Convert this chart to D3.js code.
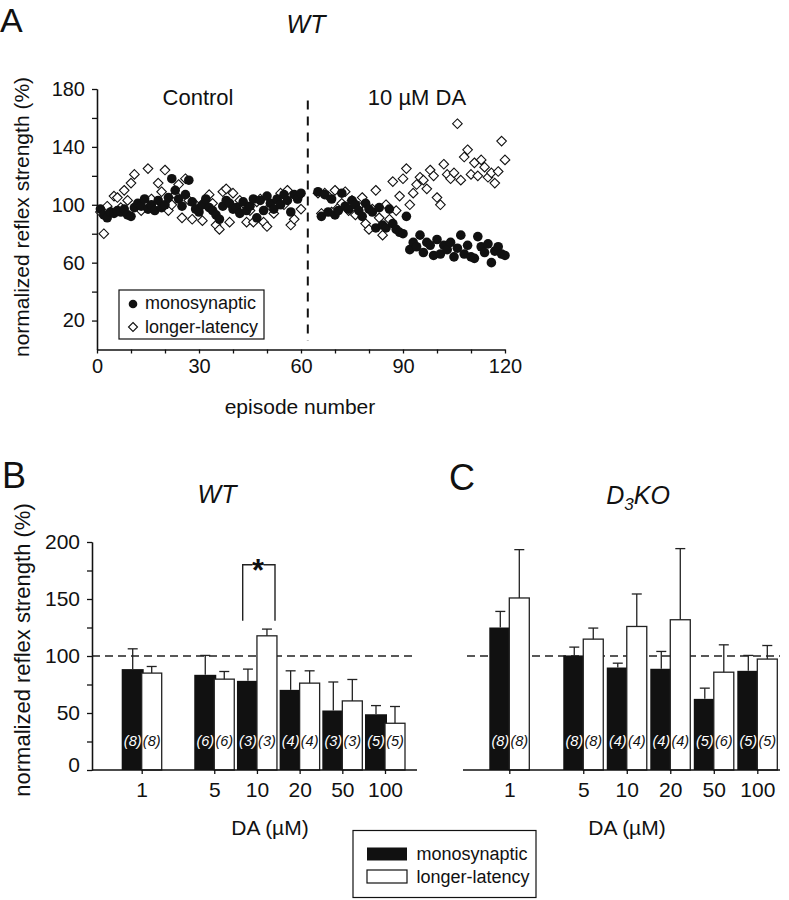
<!DOCTYPE html>
<html><head><meta charset="utf-8">
<script src="https://cdn.jsdelivr.net/npm/d3@7"></script>
<style>body{margin:0;background:#fff} svg{display:block}</style>
</head><body><svg id="c" width="789" height="900"></svg>
<script>
// ---------- DATA ----------
const episodes = d3.range(1, 121);
const monoA = [97,93,91,95,94,96,95,97,93,92,
  98,101,99,104,97,100,96,103,98,100,
  105,118,110,104,99,107,117,102,97,95,
  100,104,98,96,93,90,99,103,101,97,
  98,94,102,96,99,104,91,103,96,106,
  101,97,104,100,107,103,95,107,104,108,
  null,null,null,null,
  109,92,107,95,104,93,
  96,108,99,97,103,100,96,92,101,97,
  95,84,98,86,84,97,87,83,81,80,
  92,69,74,71,79,67,74,72,65,76,
  66,72,69,74,64,70,79,66,72,64,
  63,78,71,67,73,60,68,71,66,65];
const longA = [95,80,99,95,106,105,98,110,103,115,
  121,100,96,102,125,104,99,115,109,124,
  96,100,107,114,91,118,103,90,100,98,
  89,103,107,101,86,83,109,111,88,108,
  97,103,101,88,96,88,102,104,88,85,
  99,94,103,108,100,110,86,90,105,97,
  null,null,null,null,
  108,94,108,106,95,110,
  98,101,109,96,103,93,99,105,87,83,
  97,110,91,79,100,90,116,96,106,118,
  125,100,108,114,119,117,111,124,120,105,
  100,128,121,118,122,156,117,133,138,121,
  129,120,131,126,119,122,115,123,144,131];
const drugOnset = 62;
const yTicksA = [20, 60, 100, 140, 180];
const yMinorA = [40, 80, 120, 160];
const xTicksA = [0, 30, 60, 90, 120];

const doses = ["1", "5", "10", "20", "50", "100"];
const wtMono    = [88.5, 83.5, 78.2, 70.3, 52.2, 48.9];
const wtMonoErr = [17.8, 17.0, 10.3, 16.7, 25.0, 7.6];
const wtLong    = [85.0, 79.7, 117.7, 76.2, 60.6, 41.0];
const wtLongErr = [5.8, 6.7, 5.9, 10.8, 18.8, 14.7];
const wtMonoN = [8, 6, 3, 4, 3, 5];
const wtLongN = [8, 6, 3, 4, 3, 5];
const koMono    = [125.0, 100.5, 89.9, 88.8, 62.4, 87.0];
const koMonoErr = [14.1, 7.3, 3.8, 15.2, 9.4, 13.5];
const koLong    = [150.9, 114.8, 125.9, 131.8, 85.8, 97.3];
const koLongErr = [42.4, 9.7, 28.5, 62.4, 24.0, 11.9];
const koMonoN = [8, 8, 4, 4, 5, 5];
const koLongN = [8, 8, 4, 4, 6, 5];
const yTicksB = [0, 50, 100, 150, 200];
const yMinorB = [25, 75, 125, 175];

// ---------- DRAW ----------
const FONT = '"Liberation Sans", Arial, Helvetica, sans-serif';
const INK = "#111";
const svg = d3.select("#c").attr("font-family", FONT);

function styleAxis(g, fs) {
  g.attr("font-family", FONT).attr("font-size", fs);
  g.selectAll("path,line").attr("stroke", INK).attr("stroke-width", 1.3);
  g.selectAll("text").attr("fill", INK);
}
function txt(x, y, s, fs, opts = {}) {
  const t = svg.append("text").attr("x", x).attr("y", y).attr("font-size", fs)
    .attr("fill", INK).attr("text-anchor", opts.anchor || "start").text(s);
  if (opts.italic) t.attr("font-style", "italic");
  if (opts.bold) t.attr("font-weight", "bold");
  return t;
}

// Panel A
const xA = d3.scaleLinear().domain([0, 120]).range([97, 505]);
const yA = d3.scaleLinear().domain([0, 180]).range([349.5, 89]);

txt(0, 32, "A", 34);
txt(306, 33, "WT", 25, {anchor: "middle", italic: true});

const gyA1 = svg.append("g").attr("transform", `translate(${xA(0)},0)`)
  .call(d3.axisLeft(yA).tickValues(yMinorA).tickSize(5).tickFormat("").tickSizeOuter(0));
styleAxis(gyA1, 20);
const gyA = svg.append("g").attr("transform", `translate(${xA(0)},0)`)
  .call(d3.axisLeft(yA).tickValues(yTicksA).tickSize(5).tickPadding(7).tickSizeOuter(0));
styleAxis(gyA, 20);
const gxA = svg.append("g").attr("transform", `translate(0,${yA(0)})`)
  .call(d3.axisBottom(xA).tickValues(d3.range(0, 121, 10)).tickSize(4).tickPadding(5)
    .tickFormat(d => xTicksA.includes(d) ? d : "").tickSizeOuter(0));
styleAxis(gxA, 20);

svg.append("text").attr("transform", `translate(29,217) rotate(-90)`)
  .attr("text-anchor", "middle").attr("font-size", 21).attr("fill", INK)
  .text("normalized reflex strength (%)");
txt(300, 414, "episode number", 21, {anchor: "middle"});
txt(198, 105, "Control", 22, {anchor: "middle"});
txt(417, 105, "10 µM DA", 22, {anchor: "middle"});

svg.append("line").attr("x1", xA(drugOnset)).attr("x2", xA(drugOnset))
  .attr("y1", yA(172)).attr("y2", yA(6)).attr("stroke", INK).attr("stroke-width", 2)
  .attr("stroke-dasharray", "9,7");

const diamond = "M0,-4.8L4.8,0L0,4.8L-4.8,0Z";
const ptsLong = episodes.map((e, i) => ({e, v: longA[i]})).filter(d => d.v != null);
const ptsMono = episodes.map((e, i) => ({e, v: monoA[i]})).filter(d => d.v != null);
svg.append("g").selectAll("path").data(ptsLong).join("path")
  .attr("d", diamond).attr("transform", d => `translate(${xA(d.e)},${yA(d.v)})`)
  .attr("fill", "#fff").attr("stroke", INK).attr("stroke-width", 1.1);
svg.append("g").selectAll("circle").data(ptsMono).join("circle")
  .attr("cx", d => xA(d.e)).attr("cy", d => yA(d.v)).attr("r", 4.8).attr("fill", INK);

// legend A
svg.append("rect").attr("x", 119).attr("y", 290).attr("width", 145).attr("height", 49)
  .attr("fill", "#fff").attr("stroke", INK).attr("stroke-width", 1.2);
svg.append("circle").attr("cx", 133).attr("cy", 304).attr("r", 4.3).attr("fill", INK);
svg.append("path").attr("d", "M0,-4.5L4.5,0L0,4.5L-4.5,0Z").attr("transform", "translate(133,327)")
  .attr("fill", "#fff").attr("stroke", INK).attr("stroke-width", 1.1);
txt(145, 309, "monosynaptic", 18);
txt(145, 333, "longer-latency", 18);

// Panels B / C
const yB = d3.scaleLinear().domain([0, 200]).range([770, 542]);
const doseSlot = [0, 1.7, 2.7, 3.7, 4.7, 5.7];

function barPanel(cfg) {
  const xs = d3.scaleLinear().domain([0, 5.7]).range([cfg.c0, cfg.c1]);
  const xCat = d3.scaleOrdinal().domain(doses).range(doseSlot.map(s => xs(s)));
  const g = svg.append("g");
  g.append("line").attr("x1", cfg.dash0).attr("x2", cfg.ax1).attr("y1", yB(100)).attr("y2", yB(100))
    .attr("stroke", "#222").attr("stroke-width", 1.3).attr("stroke-dasharray", "8,5");
  const bw = 22, ww = 20;
  g.selectAll(".mb").data(doses).join("rect")
    .attr("x", (d) => xCat(d) - 20).attr("width", bw)
    .attr("y", (d, i) => yB(cfg.mono[i])).attr("height", (d, i) => yB(0) - yB(cfg.mono[i]))
    .attr("fill", INK);
  const eb = (xf, vals, errs) => {
    doses.forEach((d, i) => {
      const x = xf(d), y0 = yB(vals[i]), y1 = yB(vals[i] + errs[i]);
      g.append("line").attr("x1", x).attr("x2", x).attr("y1", y0).attr("y2", y1)
        .attr("stroke", "#222").attr("stroke-width", 1.3);
      g.append("line").attr("x1", x - 5).attr("x2", x + 5).attr("y1", y1).attr("y2", y1)
        .attr("stroke", "#222").attr("stroke-width", 1.3);
    });
  };
  eb(d => xCat(d) - 9, cfg.mono, cfg.monoErr);
  g.selectAll(".wb").data(doses).join("rect")
    .attr("x", (d) => xCat(d)).attr("width", ww)
    .attr("y", (d, i) => yB(cfg.long[i])).attr("height", (d, i) => yB(0) - yB(cfg.long[i]))
    .attr("fill", "#fff").attr("stroke", "#222").attr("stroke-width", 1.3);
  eb(d => xCat(d) + 10, cfg.long, cfg.longErr);
  doses.forEach((d, i) => {
    g.append("text").attr("x", xCat(d) - 9).attr("y", 746).attr("text-anchor", "middle")
      .attr("font-size", 14.5).attr("font-style", "italic").attr("fill", "#fff")
      .text(`(${cfg.monoN[i]})`);
    g.append("text").attr("x", xCat(d) + 10).attr("y", 746).attr("text-anchor", "middle")
      .attr("font-size", 14.5).attr("font-style", "italic").attr("fill", INK)
      .text(`(${cfg.longN[i]})`);
  });
  g.append("line").attr("x1", cfg.ax0).attr("x2", cfg.ax1).attr("y1", yB(0)).attr("y2", yB(0))
    .attr("stroke", INK).attr("stroke-width", 1.5);
  const gx = g.append("g").attr("transform", `translate(0,${yB(0)})`)
    .call(d3.axisBottom(xCat).tickSize(4).tickPadding(8).tickSizeOuter(0));
  gx.select(".domain").remove();
  styleAxis(gx, 21);
  txt(cfg.xTitle, 835, "DA (µM)", 21, {anchor: "middle"});
  return g;
}

// Panel B
txt(2, 488, "B", 36);
txt(217, 503, "WT", 25, {anchor: "middle", italic: true});
barPanel({c0: 141.7, c1: 385, ax0: 92, ax1: 417, dash0: 92, xTitle: 270,
  mono: wtMono, monoErr: wtMonoErr, long: wtLong, longErr: wtLongErr, monoN: wtMonoN, longN: wtLongN});
const gyB1 = svg.append("g").attr("transform", "translate(92,0)")
  .call(d3.axisLeft(yB).tickValues(yMinorB).tickSize(5).tickFormat("").tickSizeOuter(0));
styleAxis(gyB1, 21);
const gyB = svg.append("g").attr("transform", "translate(92,0)")
  .call(d3.axisLeft(yB).tickValues(yTicksB).tickSize(5).tickPadding(7).tickSizeOuter(0));
styleAxis(gyB, 21);
gyB.selectAll(".tick text").filter(d => d === 0).attr("dy", "0.05em");
svg.append("text").attr("transform", "translate(30,650) rotate(-90)")
  .attr("text-anchor", "middle").attr("font-size", 22).attr("fill", INK)
  .text("normalized reflex strength (%)");
svg.append("path").attr("d", `M242.7,${yB(131)}V${yB(180)}H252.5M263.5,${yB(180)}H275V${yB(131)}`)
  .attr("fill", "none").attr("stroke", "#222").attr("stroke-width", 1.4);
txt(258, 581, "*", 31, {anchor: "middle", bold: true});

// Panel C
txt(449, 490, "C", 36);
const tC = svg.append("text").attr("x", 638).attr("y", 504).attr("text-anchor", "middle")
  .attr("font-size", 25).attr("font-style", "italic").attr("fill", INK);
tC.append("tspan").text("D");
tC.append("tspan").attr("dy", 6).attr("font-size", 17).text("3");
tC.append("tspan").attr("dy", -6).text("KO");
barPanel({c0: 509.3, c1: 757.3, ax0: 463, ax1: 780, dash0: 467, xTitle: 627,
  mono: koMono, monoErr: koMonoErr, long: koLong, longErr: koLongErr, monoN: koMonoN, longN: koLongN});

// bottom legend
svg.append("rect").attr("x", 353).attr("y", 830.5).attr("width", 183).attr("height", 67)
  .attr("fill", "#fff").attr("stroke", INK).attr("stroke-width", 1.2);
svg.append("rect").attr("x", 367).attr("y", 847.5).attr("width", 40).attr("height", 13).attr("fill", INK);
svg.append("rect").attr("x", 367).attr("y", 870).attr("width", 40).attr("height", 13)
  .attr("fill", "#fff").attr("stroke", INK).attr("stroke-width", 1.2);
txt(416.5, 860, "monosynaptic", 18);
txt(416.5, 883, "longer-latency", 18);
</script></body></html>
